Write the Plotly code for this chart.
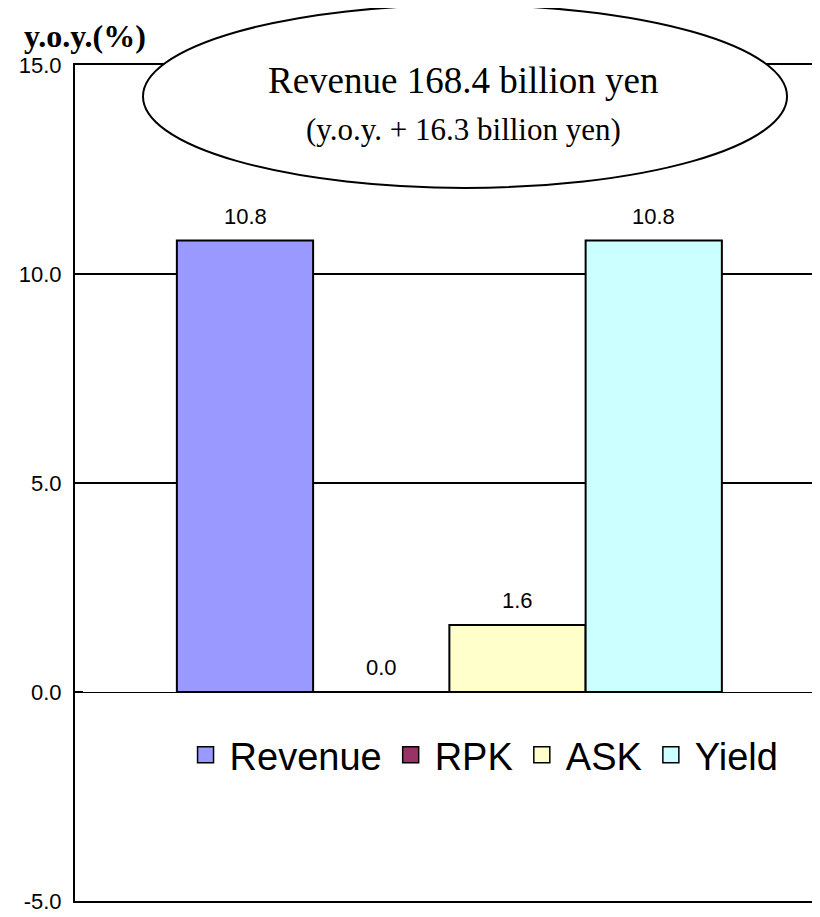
import plotly.graph_objects as go

series = ["Revenue", "RPK", "ASK", "Yield"]
values = [10.8, 0.0, 1.6, 10.8]
labels = ["10.8", "0.0", "1.6", "10.8"]
colors = ["#9999FF", "#993366", "#FFFFCC", "#CCFFFF"]
tick_vals = [-5, 0, 5, 10, 15]
tick_text = ["-5.0", "0.0", "5.0", "10.0", "15.0"]
bubble_line1 = "Revenue 168.4 billion yen"
bubble_line2 = "(y.o.y. + 16.3 billion yen)"
y_title = "y.o.y.(%)"

fig = go.Figure()
for i, (name, v, c) in enumerate(zip(series, values, colors)):
    fig.add_trace(go.Bar(
        x=[i], y=[v], width=[1], name=name, showlegend=False,
        marker=dict(color=c, line=dict(color="black", width=2)),
    ))
    fig.add_trace(go.Scatter(
        x=[None], y=[None], mode="markers", name=name,
        marker=dict(symbol="square", size=16, color=c, line=dict(color="black", width=1.5)),
    ))
    fig.add_annotation(x=i, y=v, text=labels[i], showarrow=False, yanchor="bottom",
                       yshift=10, font=dict(family="Liberation Sans, Arial", size=22, color="black"))

fig.add_shape(type="circle", xref="paper", yref="paper",
              x0=0.0903, x1=0.9456, y0=0.853, y1=1.0718,
              line=dict(color="black", width=2), fillcolor="white", layer="above")
fig.add_annotation(xref="paper", yref="paper", x=0.5166, y=0.982, xanchor="center", yanchor="middle",
                   text=bubble_line1, showarrow=False,
                   font=dict(family="Liberation Serif, Times New Roman", size=37, color="black"))
fig.add_annotation(xref="paper", yref="paper", x=0.5166, y=0.923, xanchor="center", yanchor="middle",
                   text=bubble_line2, showarrow=False,
                   font=dict(family="Liberation Serif, Times New Roman", size=31, color="black"))
fig.add_annotation(xref="paper", yref="paper", x=-0.0704, y=1.0, xanchor="left", yanchor="bottom",
                   text="<b>" + y_title + "</b>", showarrow=False, yshift=9,
                   font=dict(family="Liberation Serif, Times New Roman", size=32, color="black"))

fig.update_layout(
    width=820, height=909,
    margin=dict(l=67, r=0, t=57, b=16),
    paper_bgcolor="white", plot_bgcolor="white",
    barmode="overlay",
    showlegend=True,
    legend=dict(orientation="h", x=0.1415, y=0.1746, xanchor="left", yanchor="middle",
                itemwidth=38,
                font=dict(family="Liberation Sans, Arial", size=38, color="black"),
                bgcolor="rgba(0,0,0,0)"),
    xaxis=dict(range=[-1.2477, 4.279], showgrid=False, zeroline=False, showticklabels=False,
               showline=True, mirror=True, linecolor="black", linewidth=2, ticks=""),
    yaxis=dict(range=[-5, 15], tickvals=tick_vals, ticktext=tick_text,
               showgrid=True, gridcolor="black", gridwidth=2,
               zeroline=True, zerolinecolor="black", zerolinewidth=1,
               showline=True, linecolor="black", linewidth=2,
               ticks="inside", ticklen=8, tickwidth=2, tickcolor="black",
               ticklabelstandoff=7,
               tickfont=dict(family="Liberation Sans, Arial", size=22, color="black")),
)

fig.write_html("out.html")
